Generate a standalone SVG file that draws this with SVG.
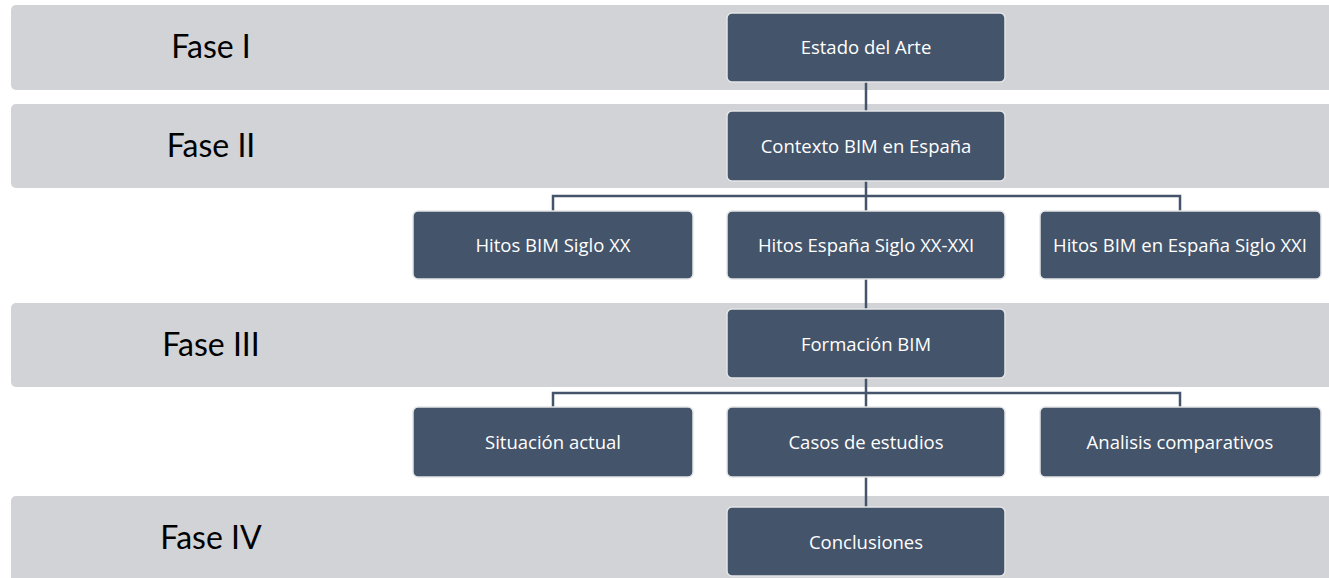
<svg xmlns="http://www.w3.org/2000/svg" width="1329" height="578" viewBox="0 0 1329 578">
  <style>
    .band { fill: #d1d3d7; }
    .phase { font-family: Lato, "Liberation Sans", sans-serif; font-size: 32px; fill: #000000; text-anchor: middle; }
    .node rect { fill: #44546a; stroke: #e4e5e7; stroke-width: 1.5; }
    .node text { font-family: "Open Sans", "Noto Sans", sans-serif; font-size: 18.5px; fill: #ffffff; text-anchor: middle; }
    .conn { stroke: #44546a; stroke-width: 2.5; fill: none; }
  </style>
  <rect width="1329" height="578" fill="#ffffff"/>
  <g id="bands">
    <g id="fase1"><rect class="band" x="11" y="5" width="1330" height="85" rx="5"/><text class="phase" x="211" y="58">Fase I</text></g>
    <g id="fase2"><rect class="band" x="11" y="104" width="1330" height="84" rx="5"/><text class="phase" x="211" y="157">Fase II</text></g>
    <g id="fase3"><rect class="band" x="11" y="303" width="1330" height="84" rx="5"/><text class="phase" x="211" y="356">Fase III</text></g>
    <g id="fase4"><rect class="band" x="11" y="496" width="1330" height="90" rx="5"/><text class="phase" x="211" y="549">Fase IV</text></g>
  </g>
  <g id="connectors">
    <path class="conn" d="M866 82 V111"/>
    <path class="conn" d="M866 181 V211 M553 211 V196 H1180 V211"/>
    <path class="conn" d="M866 279 V309"/>
    <path class="conn" d="M866 378 V407 M553 407 V393 H1180 V407"/>
    <path class="conn" d="M866 477 V507"/>
  </g>
  <g id="n1" class="node"><rect x="727" y="13" width="278" height="69" rx="5"/><text x="866" y="54">Estado del Arte</text></g>
  <g id="n2" class="node"><rect x="727" y="111" width="278" height="70" rx="5"/><text x="866" y="152.5">Contexto BIM en España</text></g>
  <g id="n3" class="node"><rect x="413" y="211" width="280" height="68" rx="5"/><text x="553" y="251.5">Hitos BIM Siglo XX</text></g>
  <g id="n4" class="node"><rect x="727" y="211" width="278" height="68" rx="5"/><text x="866" y="251.5">Hitos España Siglo XX-XXI</text></g>
  <g id="n5" class="node"><rect x="1040" y="211" width="281" height="68" rx="5"/><text x="1180" y="251.5">Hitos BIM en España Siglo XXI</text></g>
  <g id="n6" class="node"><rect x="727" y="309" width="278" height="69" rx="5"/><text x="866" y="350.5">Formación BIM</text></g>
  <g id="n7" class="node"><rect x="413" y="407" width="280" height="70" rx="5"/><text x="553" y="448.5">Situación actual</text></g>
  <g id="n8" class="node"><rect x="727" y="407" width="278" height="70" rx="5"/><text x="866" y="448.5">Casos de estudios</text></g>
  <g id="n9" class="node"><rect x="1040" y="407" width="281" height="70" rx="5"/><text x="1180" y="448.5">Analisis comparativos</text></g>
  <g id="n10" class="node"><rect x="727" y="507" width="278" height="69" rx="5"/><text x="866" y="548.5">Conclusiones</text></g>
</svg>
